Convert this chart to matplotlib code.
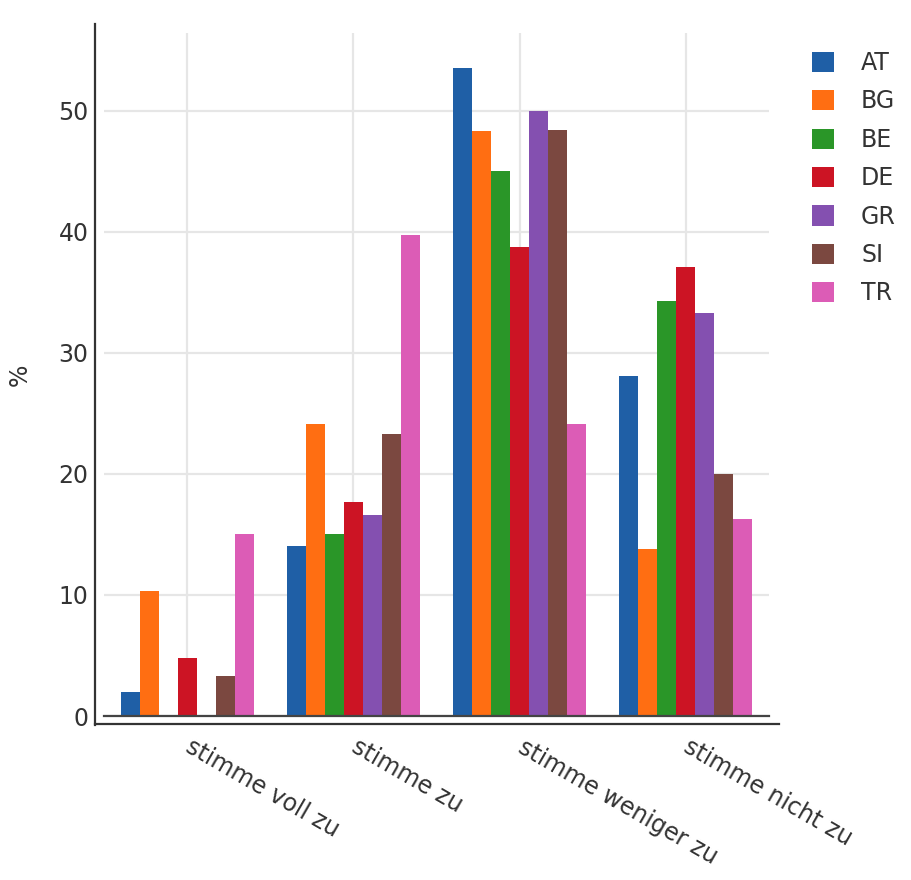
import matplotlib
matplotlib.use('Agg')
import matplotlib.pyplot as plt
import numpy as np
from matplotlib.lines import Line2D

# Daten
categories = ['stimme voll zu', 'stimme zu', 'stimme weniger zu', 'stimme nicht zu']
countries = ['AT', 'BG', 'BE', 'DE', 'GR', 'SI', 'TR']
at = [2.0, 14.0, 53.5, 28.1]
bg = [10.3, 24.1, 48.3, 13.8]
be = [0.0, 15.0, 45.0, 34.3]
de = [4.8, 17.7, 38.7, 37.1]
gr = [0.0, 16.6, 50.0, 33.3]
si = [3.3, 23.3, 48.4, 20.0]
tr = [15.0, 39.7, 24.1, 16.3]
colors = ['#1f5fa6', '#ff6e12', '#2a9628', '#cc1424', '#8450b0', '#7b4840', '#dc5cb6']

series = [at, bg, be, de, gr, si, tr]
text_color = '#333333'
fs = 17

fig = plt.figure(figsize=(9.12, 8.8), dpi=100)
W, H = 912, 880
ax = fig.add_axes([104 / W, 1 - 716 / H, 665 / W, 683 / H])

x = np.arange(len(categories))
w = 0.8 / len(countries)
for i, (name, vals) in enumerate(zip(countries, series)):
    ax.bar(x + (i - 3) * w, vals, w, color=colors[i], label=name, zorder=2, linewidth=0)

ax.set_xlim(-0.5, 3.5)
ax.set_ylim(0, 56.4)
ax.set_yticks([0, 10, 20, 30, 40, 50])
ax.set_xticks(x)
ax.set_xticklabels(categories, rotation=-30, ha='left', va='center',
                   rotation_mode='anchor')
ax.grid(True, color='#e6e6e6', linewidth=1.6, zorder=0)
ax.set_axisbelow(True)
ax.axhline(0, color='#444444', linewidth=1.6, zorder=3, clip_on=False)

for s in ax.spines.values():
    s.set_visible(False)
ax.tick_params(axis='both', length=0, labelsize=fs, labelcolor=text_color)
ax.tick_params(axis='y', pad=11)
ax.tick_params(axis='x', pad=21)

# Achsenlinien (versetzt wie im Original)
fig.add_artist(Line2D([95 / W, 95 / W], [1 - 725 / H, 1 - 24 / H],
                      transform=fig.transFigure, color='#333333', linewidth=1.6))
fig.add_artist(Line2D([95 / W, 779 / W], [1 - 724 / H, 1 - 724 / H],
                      transform=fig.transFigure, color='#333333', linewidth=1.6))

ax.set_ylabel('%', fontsize=fs, color=text_color)
ax.yaxis.set_label_coords(-0.108, 0.5)

fig.legend(loc='upper left', bbox_to_anchor=(812 / W, 1 - 51 / H), frameon=False,
           fontsize=fs, labelcolor=text_color, handlelength=0.93, handleheight=0.93,
           handletextpad=1.15, labelspacing=0.61, borderpad=0, borderaxespad=0)

fig.savefig('out.png', dpi=100, facecolor='white')
